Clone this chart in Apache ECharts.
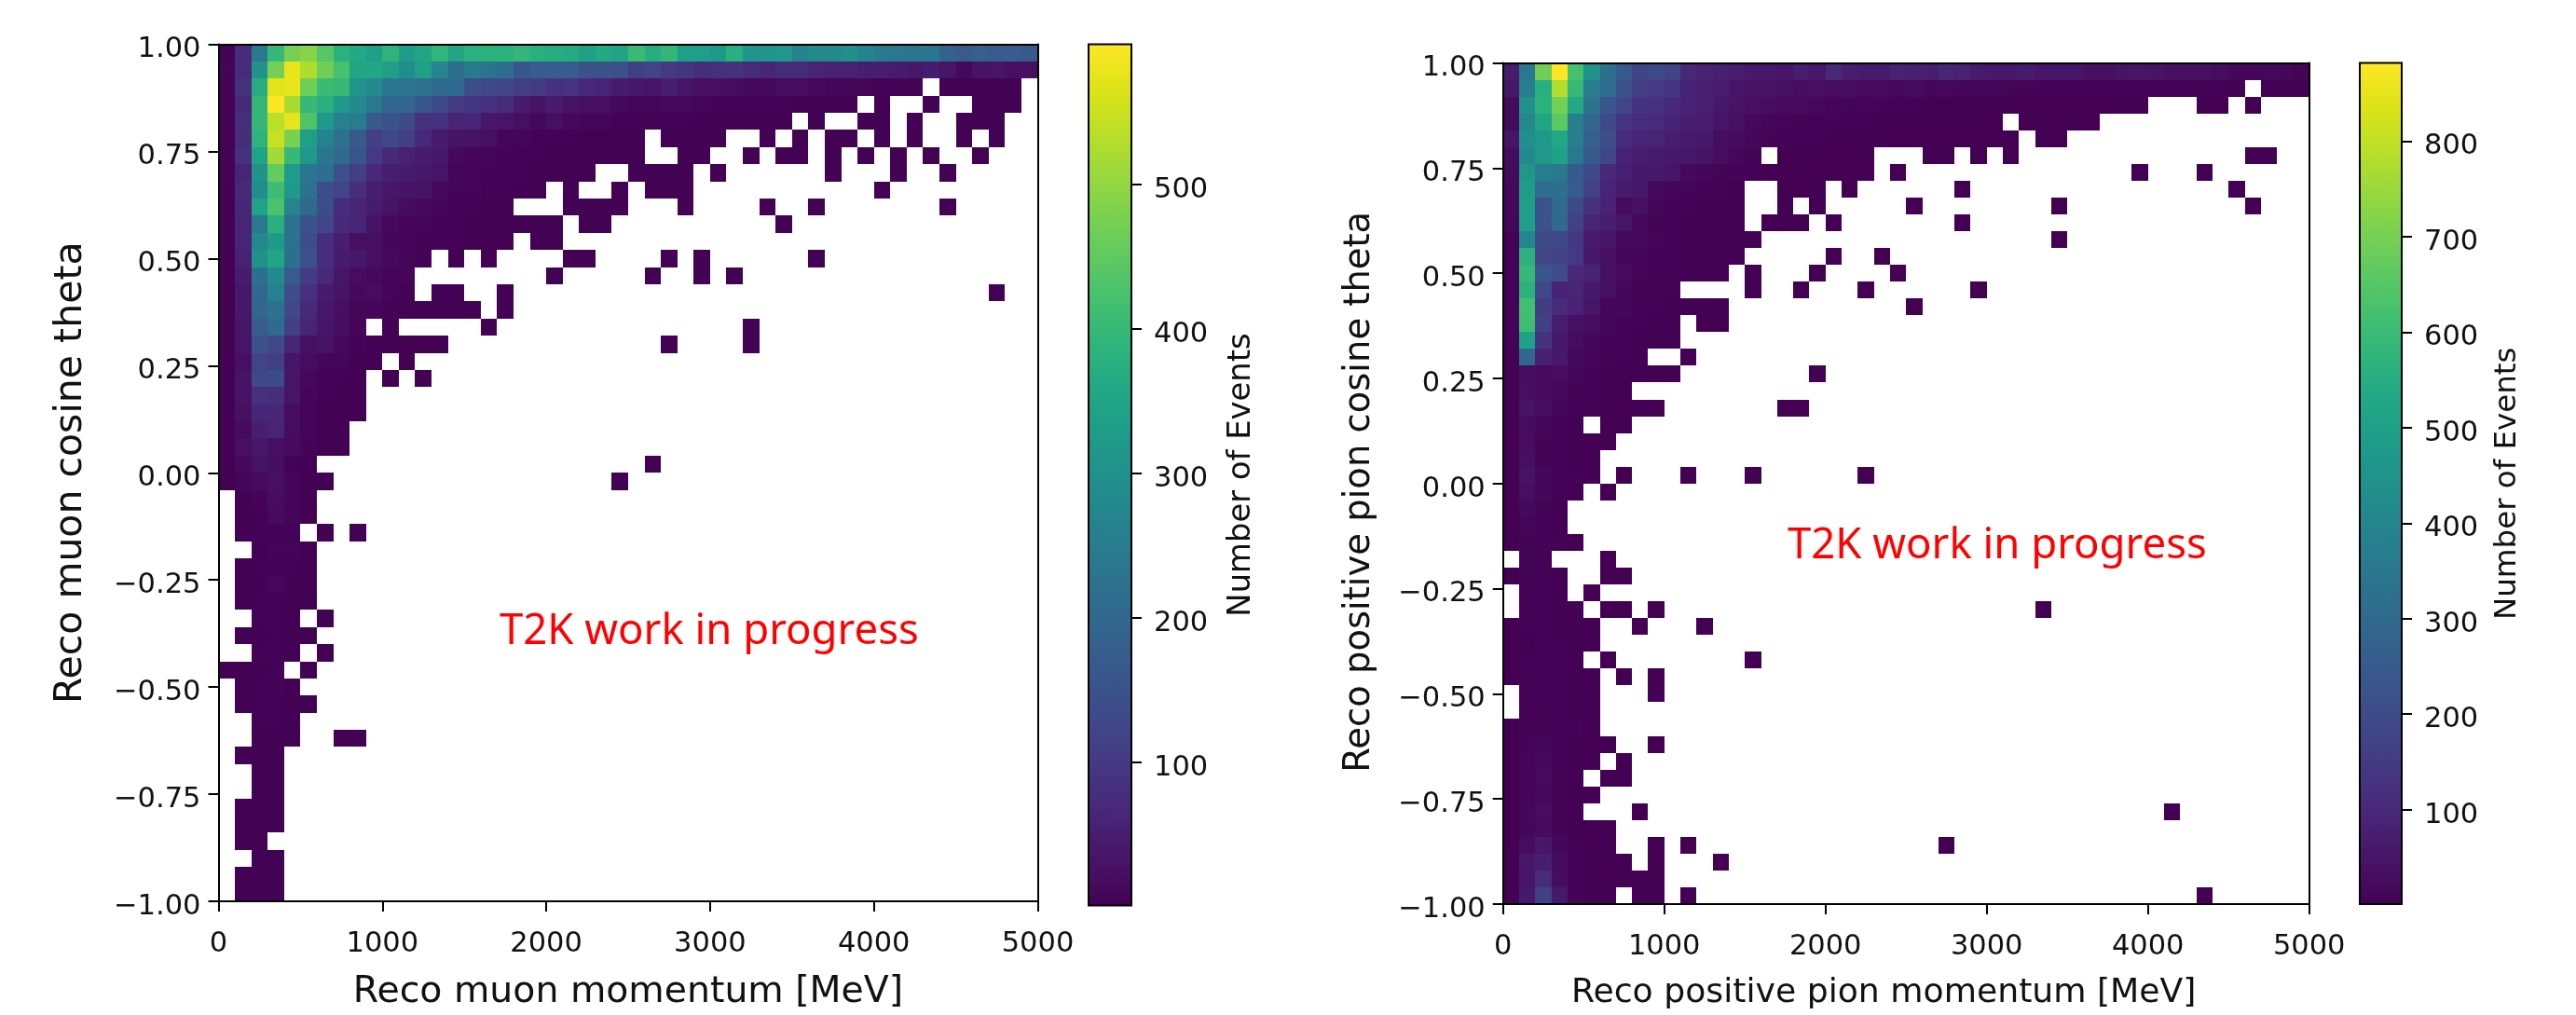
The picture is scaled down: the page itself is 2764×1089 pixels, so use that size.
<!DOCTYPE html>
<html><head><meta charset="utf-8"><style>html,body{margin:0;padding:0;background:#fff}#c{width:2764px;height:1089px}</style>
<script src="https://cdn.jsdelivr.net/npm/echarts@6/dist/echarts.min.js"></script></head><body><div id="c"></div>
<script>
// Counts per bin: row 0 is the top of the plot (cos theta 0.96..1.00), column 0 is 0..100 MeV. 0 = empty bin.
const muonCounts = [
[5,75,245,400,475,490,440,380,360,335,385,330,350,390,350,380,380,380,395,378,370,365,340,360,345,405,370,395,335,335,320,375,310,310,315,265,280,280,295,265,245,240,235,235,190,170,185,170,175,165],
[8,75,305,470,575,525,465,420,350,355,335,290,340,270,220,245,230,210,160,175,175,175,150,150,145,110,120,100,95,80,85,85,75,65,75,75,60,55,55,50,50,45,40,45,35,15,30,35,25,25],
[5,85,370,570,578,465,405,400,310,280,235,235,225,205,205,140,130,125,110,105,85,90,70,60,45,40,35,50,35,25,25,20,15,15,20,20,12,10,10,8,5,5,5,0,2,3,2,2,2,0],
[5,70,395,597,520,400,375,320,285,240,195,195,160,135,100,95,85,75,45,30,45,30,25,25,15,10,10,12,12,8,5,5,4,4,4,3,3,3,3,0,2,0,0,2,0,0,2,2,2,0],
[4,80,395,535,575,430,320,260,250,165,155,135,85,85,60,65,40,35,25,15,25,12,10,8,5,5,5,4,4,3,3,3,3,2,2,0,2,0,0,2,2,0,2,0,0,2,2,2,0,0],
[4,75,385,545,478,335,265,225,165,110,130,110,70,45,30,30,25,8,8,5,5,4,3,3,3,3,0,2,2,2,2,0,0,2,0,2,0,2,2,0,2,0,2,0,0,2,0,2,0,0],
[4,85,345,515,400,320,235,205,160,100,70,55,45,40,12,10,8,6,5,4,3,3,2,2,2,2,0,0,2,2,0,0,2,0,2,2,0,2,0,2,0,2,0,2,0,0,2],
[4,60,305,455,330,235,215,145,110,70,50,45,40,35,8,8,6,5,4,3,3,3,3,0,0,2,2,2,2,0,2,0,0,0,0,0,0,2,0,0,0,2,0,0,2],
[3,70,290,410,320,225,140,120,80,50,40,30,30,15,10,8,5,4,3,3,0,2,0,0,2,0,2,2,2,0,0,0,0,0,0,0,0,0,0,0,2],
[3,65,345,425,270,200,140,75,60,45,30,20,15,8,5,4,3,3,0,0,0,2,2,2,2,0,0,0,2,0,0,0,0,2,0,0,2,0,0,0,0,0,0,0,2],
[3,60,240,375,225,155,125,70,65,30,15,10,8,5,5,3,3,2,2,2,2,0,2,2,0,0,0,0,0,0,0,0,0,0,2],
[3,60,280,320,225,140,80,50,25,25,10,8,6,5,4,3,2,2,0,2,2],
[3,55,300,350,215,145,80,45,40,25,15,8,6,0,2,0,2,0,0,0,0,2,2,0,0,0,0,2,0,2,0,0,0,0,0,0,2],
[3,45,220,285,170,105,70,35,20,15,10,8,0,0,0,0,0,0,0,0,2,0,0,0,0,0,2,0,0,2,0,2],
[3,40,200,260,140,85,45,30,15,20,8,5,0,2,2,0,0,2,0,0,0,0,0,0,0,0,0,0,0,0,0,0,0,0,0,0,0,0,0,0,0,0,0,0,0,0,0,2],
[3,40,195,225,130,70,40,25,10,8,5,4,3,3,2,2,0,2],
[3,35,170,205,110,60,35,20,8,0,2,0,0,0,0,0,2,0,0,0,0,0,0,0,0,0,0,0,0,0,0,0,2],
[3,35,150,130,60,25,30,15,6,3,3,2,2,2,0,0,0,0,0,0,0,0,0,0,0,0,0,2,0,0,0,0,2],
[3,25,120,110,35,20,10,8,3,3,0,2],
[3,30,130,135,35,12,5,4,3,0,2,0,2],
[3,30,85,80,35,10,4,3,2],
[3,28,65,65,20,8,3,3,2],
[3,18,50,60,20,8,3,3],
[3,25,40,25,18,6,3,2],
[3,15,30,22,5,3,0,0,0,0,0,0,0,0,0,0,0,0,0,0,0,0,0,0,0,0,2],
[2,10,18,25,10,3,2,0,0,0,0,0,0,0,0,0,0,0,0,0,0,0,0,0,2],
[0,3,6,20,8,3],
[0,3,5,18,8,2],
[0,3,4,5,5,0,2,0,2],
[0,0,3,8,8,3],
[0,2,4,5,4,2],
[0,2,3,12,3,2],
[0,2,5,5,3,2],
[0,0,5,5,3,0,2],
[0,2,3,4,3,2],
[0,0,4,5,3,0,2],
[2,2,3,4,0,2],
[0,2,4,6,3],
[0,2,4,5,3,2],
[0,0,4,5,2],
[0,0,3,2,2,0,0,2,2],
[0,2,3,2],
[0,0,3,3],
[0,0,2,2],
[0,2,2,2],
[0,2,3,2],
[0,2,2],
[0,0,2,2],
[0,2,2,2],
[0,2,3,2]
];
const pionCounts = [
[70,350,690,882,620,440,320,245,175,190,175,100,85,80,70,60,55,50,70,55,100,75,65,65,85,80,75,95,85,65,60,60,65,50,50,50,35,40,45,50,45,40,35,35,30,15,15,20,15,10],
[55,375,555,780,590,375,310,220,160,150,140,85,80,70,50,45,45,40,30,35,30,30,25,25,20,25,15,18,15,12,12,10,10,8,8,8,8,8,6,6,6,5,5,5,5,4,0,2,2,2],
[25,440,560,695,530,340,230,185,130,125,100,85,80,55,45,35,30,25,25,20,12,8,12,8,5,6,4,4,3,3,3,3,2,2,2,2,2,2,2,2,0,0,0,2,2,0,2],
[25,410,520,660,380,290,190,135,115,110,85,75,70,50,40,20,12,12,10,8,8,6,5,4,3,3,3,3,3,3,2,0,2,2,2,2,2],
[50,430,470,530,370,270,210,110,95,90,70,65,60,30,25,15,10,6,5,5,4,3,3,3,2,2,2,2,2,2,2,2,0,2,2],
[30,415,470,500,350,250,185,85,75,65,60,55,45,30,15,10,0,3,3,3,2,2,2,0,0,0,2,2,0,2,0,2,0,0,0,0,0,0,0,0,0,0,0,0,0,0,2,2],
[25,465,380,350,250,190,100,80,60,60,50,20,15,10,8,5,3,3,2,2,2,2,2,0,2,0,0,0,0,0,0,0,0,0,0,0,0,0,0,2,0,0,0,2],
[20,490,310,315,255,170,90,65,55,20,15,12,8,5,4,0,0,2,2,2,0,2,0,0,0,0,0,0,2,0,0,0,0,0,0,0,0,0,0,0,0,0,0,0,0,2],
[20,495,225,305,190,125,85,25,40,15,8,5,4,3,3,0,0,2,0,2,0,0,0,0,0,2,0,0,0,0,0,0,0,0,2,0,0,0,0,0,0,0,0,0,0,0,2],
[15,495,220,300,170,90,75,50,18,10,8,4,3,3,3,0,2,2,2,0,2,0,0,0,0,0,0,0,2],
[5,400,195,190,145,65,50,20,18,12,6,4,3,3,3,3,0,0,0,0,0,0,0,0,0,0,0,0,0,0,0,0,0,0,2],
[5,560,180,175,150,60,35,15,12,8,5,4,3,3,2,0,0,0,0,0,2,0,0,2],
[5,590,230,205,100,85,40,25,12,8,6,4,3,2,0,2,0,0,0,2,0,0,0,0,2],
[5,560,190,85,95,60,35,15,10,10,5,0,0,0,0,2,0,0,2,0,0,0,2,0,0,0,0,0,0,2],
[5,615,155,105,85,50,15,15,8,5,3,3,3,2,0,0,0,0,0,0,0,0,0,0,0,2],
[5,610,165,70,40,30,12,8,6,4,3,0,2,2],
[5,505,130,60,30,15,8,5,4,3,3],
[4,290,80,60,20,12,10,5,3,0,0,2],
[3,30,25,30,15,8,3,3,2,2,2,0,0,0,0,0,0,0,0,2],
[3,35,25,20,10,6,3,2],
[3,45,30,15,8,5,2,2,2,2,0,0,0,0,0,0,0,2,2],
[3,30,15,8,4,0,2,2],
[3,30,10,5,3,2,2],
[3,35,10,5,3,2],
[4,45,15,8,5,3,0,2,0,0,0,2,0,0,0,2,0,0,0,0,0,0,2],
[3,35,15,5,3,0,2],
[3,20,10,4],
[3,12,8,3],
[3,10,8,5,2],
[0,8,5,0,0,0,2],
[2,8,5,3,0,0,2,2],
[0,6,5,4,0,2],
[0,6,5,4,3,0,2,2,0,2,0,0,0,0,0,0,0,0,0,0,0,0,0,0,0,0,0,0,0,0,0,0,0,2],
[2,5,5,4,4,3,0,0,2,0,0,0,2],
[2,4,8,5,4,3],
[2,6,8,5,4,0,2,0,0,0,0,0,0,0,0,2],
[2,6,8,6,4,2,0,2,0,2],
[0,6,8,5,4,2,0,0,0,2],
[0,6,10,5,4,2],
[2,10,10,6,8,2],
[2,8,15,6,4,2,2,0,0,2],
[2,12,20,8,4,2,0,2],
[2,12,25,10,4,0,2,2],
[2,12,20,10,4,2],
[2,15,30,10,4,0,0,0,2,0,0,0,0,0,0,0,0,0,0,0,0,0,0,0,0,0,0,0,0,0,0,0,0,0,0,0,0,0,0,0,0,2],
[2,15,25,10,4,2,2],
[2,30,55,15,5,2,2,0,0,2,0,2,0,0,0,0,0,0,0,0,0,0,0,0,0,0,0,2],
[3,55,75,25,6,3,2,2,0,2,0,0,0,2],
[3,50,110,30,6,3,2,2,2,2],
[3,60,165,60,8,3,2,0,2,2,0,2,0,0,0,0,0,0,0,0,0,0,0,0,0,0,0,0,0,0,0,0,0,0,0,0,0,0,0,0,0,0,0,2]
];
const muonBarTicks = [100,200,300,400,500];
const pionBarTicks = [100,200,300,400,500,600,700,800];
const muonRange = [1,597];
const pionRange = [1,882];
const xBin = 100, yBin = 0.04;
const viridis = ['#440154','#471365','#482475','#463480','#414487','#3b528b','#355f8d','#2f6c8e','#2a788e','#25848e','#21918c','#1e9c89','#22a884','#2fb47c','#44bf70','#5ec962','#7ad151','#9bd93c','#bddf26','#dfe318','#fde725'];

const FONT = 'DejaVu Sans', TXT = '#111', TICK = 30.5;
const LINE = {lineStyle:{color:'#000',width:2}};
const RICH = {t:{fontFamily:FONT,fontSize:TICK,color:TXT,padding:[12,0,0,0]}};
function cells(rows){
  const out=[];
  rows.forEach((r,j)=>r.forEach((v,i)=>{ if(v>0) out.push([i*xBin, 1-j*yBin, v]); }));
  return out;
}
function renderCell(params, api){
  const a=api.coord([api.value(0),api.value(1)]), b=api.coord([api.value(0)+xBin,api.value(1)-yBin]);
  const x0=Math.round(a[0]),y0=Math.round(a[1]),x1=Math.round(b[0]),y1=Math.round(b[1]);
  return {type:'rect',shape:{x:x0,y:y0,width:x1-x0,height:y1-y0},style:{fill:api.visual('color')}};
}
function renderBar(params, api){
  const a=api.coord([0,api.value(1)]), b=api.coord([1,api.value(0)]);
  return {type:'rect',shape:{x:a[0],y:a[1],width:b[0]-a[0],height:b[1]-a[1]},style:{
    fill:new echarts.graphic.LinearGradient(0,1,0,0,viridis.map((c,i)=>({offset:i/(viridis.length-1),color:c}))),
    stroke:'#000',lineWidth:2}};
}
const opt={animation:false,backgroundColor:'#fff',grid:[],xAxis:[],yAxis:[],series:[],visualMap:[],
  graphic:[]};
function panel(p){
  const g=opt.grid.length, xi=opt.xAxis.length, yi=opt.yAxis.length;
  opt.grid.push({left:p.left,top:p.top,width:p.width,height:p.height,show:false});
  opt.xAxis.push({type:'value',gridIndex:g,min:0,max:5000,interval:1000,position:'bottom',z:10,
    name:p.xName,nameLocation:'middle',nameGap:p.xGap,nameTextStyle:{fontFamily:FONT,fontSize:p.nameSizeX,color:TXT,padding:p.xPad},
    splitLine:{show:false},axisLine:{show:true,onZero:false,...LINE},axisTick:{show:true,length:11,...LINE},
    axisLabel:{fontFamily:FONT,fontSize:TICK,color:TXT,margin:31,formatter:v=>String(v),showMinLabel:true,showMaxLabel:true}});
  opt.xAxis.push({type:'value',gridIndex:g,min:0,max:5000,position:'top',z:10,splitLine:{show:false},
    axisLine:{show:true,onZero:false,...LINE},axisTick:{show:false},axisLabel:{show:false}});
  opt.yAxis.push({type:'value',gridIndex:g,min:-1,max:1,interval:0.25,position:'left',z:10,
    name:p.yName,nameLocation:'middle',nameGap:p.yGap,nameRotate:90,nameTextStyle:{fontFamily:FONT,fontSize:p.nameSizeY,color:TXT,padding:p.yPad},
    splitLine:{show:false},axisLine:{show:true,onZero:false,...LINE},axisTick:{show:true,length:11,...LINE},
    axisLabel:{margin:19,rich:RICH,formatter:v=>'{t|'+v.toFixed(2).replace('-','\u2212')+'}',showMinLabel:true,showMaxLabel:true}});
  opt.yAxis.push({type:'value',gridIndex:g,min:-1,max:1,position:'right',z:10,splitLine:{show:false},
    axisLine:{show:true,onZero:false,...LINE},axisTick:{show:false},axisLabel:{show:false}});
  const si=opt.series.length;
  opt.series.push({type:'custom',xAxisIndex:xi,yAxisIndex:yi,coordinateSystem:'cartesian2d',clip:true,
    encode:{x:0,y:1},data:cells(p.rows),renderItem:renderCell,silent:true});
  opt.visualMap.push({type:'continuous',show:false,seriesIndex:si,dimension:2,min:p.range[0],max:p.range[1],
    inRange:{color:viridis}});
  // colour bar
  const g2=opt.grid.length, xi2=opt.xAxis.length, yi2=opt.yAxis.length;
  opt.grid.push({left:p.barLeft,top:p.top,width:p.barWidth,height:p.height,show:false});
  opt.xAxis.push({type:'value',gridIndex:g2,min:0,max:1,show:false});
  opt.yAxis.push({type:'value',gridIndex:g2,min:p.range[0],max:p.range[1],position:'right',
    name:'Number of Events',nameLocation:'middle',nameGap:p.barGap,nameRotate:90,
    nameTextStyle:{fontFamily:FONT,fontSize:p.barNameSize,color:TXT},
    splitLine:{show:false},axisLine:{show:false,onZero:false},
    axisTick:{show:true,length:11,...LINE,customValues:p.barTicks},
    axisLabel:{margin:24,rich:RICH,formatter:v=>'{t|'+v+'}',customValues:p.barTicks}});
  opt.series.push({type:'custom',xAxisIndex:xi2,yAxisIndex:yi2,coordinateSystem:'cartesian2d',clip:false,silent:true,
    encode:{y:[0,1]},data:[p.range],renderItem:renderBar});
  opt.graphic.push({type:'text',left:p.noteLeft,top:p.noteTop,style:{text:'T2K work in progress',fill:'#ff0000',font:'45.5px "Noto Sans"'}});
}
panel({left:234.5,top:47.5,width:879,height:924,rows:muonCounts,range:muonRange,barTicks:muonBarTicks,
  xName:'Reco muon momentum [MeV]',yName:'Reco muon cosine theta',xGap:78,yGap:138,nameSizeX:39.4,nameSizeY:41,xPad:0,yPad:0,
  barLeft:1168,barWidth:46,barGap:101,barNameSize:33.8,noteLeft:536,noteTop:655});
panel({left:1612.7,top:67.5,width:865,height:902.5,rows:pionCounts,range:pionRange,barTicks:pionBarTicks,
  xName:'Reco positive pion momentum [MeV]',yName:'Reco positive pion cosine theta',xGap:78,yGap:134,nameSizeX:36.2,nameSizeY:38.5,xPad:[0,48,0,0],yPad:[0,18,0,0],
  barLeft:2532,barWidth:45,barGap:97,barNameSize:32.5,noteLeft:1918,noteTop:563});
const chart=echarts.init(document.getElementById('c'),null,{renderer:'canvas'});
chart.setOption(opt);
</script></body></html>
